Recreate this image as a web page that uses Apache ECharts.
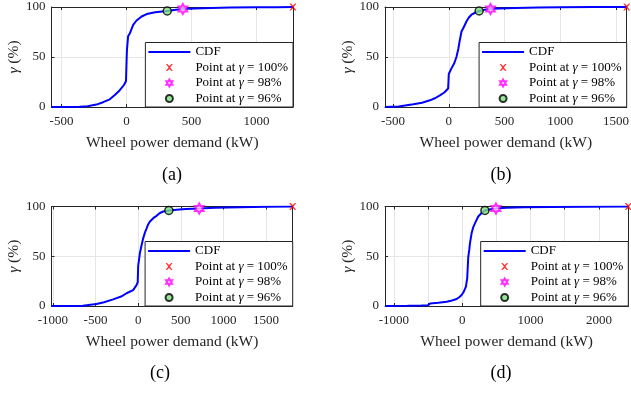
<!DOCTYPE html>
<html>
<head>
<meta charset="utf-8">
<script src="https://cdn.jsdelivr.net/npm/echarts@6/dist/echarts.min.js"></script>
<style>
  html, body { margin: 0; padding: 0; background: #fff; }
  #chart { width: 631px; height: 394px; }
</style>
</head>
<body>
<div id="chart"></div>
<script>
// (a)
const powerA = [-577, -450, -361, -300, -232, -180, -129, -90, -52, -20, -4, 0, 3, 12, 26, 51, 77, 116, 155, 220, 313, 380, 433, 520, 650, 800, 1000, 1150, 1280];
const gammaA = [0, 0, 0.2, 0.8, 2.4, 4.8, 7.7, 12, 16.8, 22, 26, 45, 57, 70.7, 73.8, 82.2, 86.5, 90.5, 92.9, 94.8, 96, 97.2, 98, 98.6, 99.1, 99.4, 99.7, 99.85, 100];
const marksA = [[1280, 100], [433, 98], [313, 96]];
// (b)
const powerB = [-572, -450, -318, -240, -169, -120, -80, -40, -6, -2, 0, 3, 24, 50, 69, 85, 99, 114, 135, 158, 180, 203, 240, 272, 320, 374, 450, 600, 800, 1000, 1300, 1595];
const gammaB = [0, 0.5, 2.7, 4.2, 6.7, 9, 11.7, 14.5, 18.5, 18.7, 33, 35, 38.6, 44, 50.3, 58, 67, 75.5, 80, 85.5, 89.5, 92.3, 94.5, 96, 97.2, 98, 98.6, 99.1, 99.5, 99.7, 99.9, 100];
const marksB = [[1595, 100], [374, 98], [272, 96]];
// (c)
const powerC = [-1016, -800, -650, -488, -400, -293, -200, -136, -59, -19, -5, 0, 20, 40, 59, 80, 99, 117, 138, 180, 216, 255, 294, 360, 450, 560, 716, 900, 1200, 1500, 1812];
const gammaC = [0, 0, 0.3, 2, 3.8, 6.7, 9.5, 12.8, 16, 21, 24, 40, 53, 61, 68, 74, 78, 82, 85, 88.5, 90.6, 93.5, 95, 96, 96.8, 97.4, 98, 98.7, 99.3, 99.7, 100];
const marksC = [[1812, 100], [716, 98], [360, 96]];
// (d)
const powerD = [-1130, -800, -600, -500, -470, -350, -228, -150, -82, -40, -9, 20, 54, 73, 88, 103, 113, 137, 160, 186, 234, 290, 332, 420, 493, 650, 900, 1300, 1800, 2430];
const gammaD = [0, 0.2, 0.4, 0.7, 2.6, 3.2, 4.3, 5.5, 7, 9, 11, 14, 19.4, 28, 49, 56.4, 63, 73, 79, 83, 90, 94, 96, 97.3, 98, 98.8, 99.3, 99.6, 99.85, 100];
const marksD = [[2430, 100], [493, 98], [332, 96]];

const xRanges = [[-577, 1280], [-572, 1595], [-1016, 1812], [-1130, 2430]];
const xSplits = [4, 4, 6, 7];
const xLabelSteps = [500, 500, 500, 1000];
const yTicks = [0, 50, 100];
const captions = ['(a)', '(b)', '(c)', '(d)'];
const legendNames = ['CDF', 'Point at γ = 100%', 'Point at γ = 98%', 'Point at γ = 96%'];

const FONT = 'Liberation Serif';
const INK = '#262626';
const GRID_LINE = '#e6e6e6';

const grids = [
  { left: 51.5, top: 7, width: 241.5, height: 100 },
  { left: 385, top: 7, width: 241.7, height: 100 },
  { left: 51.5, top: 206.5, width: 241.2, height: 99.5 },
  { left: 385, top: 206.5, width: 243.3, height: 99.5 }
];
const captionPos = [[172, 175], [501, 175], [160, 373], [501, 373]];

const chart = echarts.init(document.getElementById('chart'));

const crossPath = 'path://M0,0L2,0L5,3L8,0L10,0L6.2,5L10,10L8,10L5,7L2,10L0,10L3.8,5Z';
const hexPath = 'path://M0,-10L2.887,-5L8.66,-5L5.774,0L8.66,5L2.887,5L0,10L-2.887,5L-8.66,5L-5.774,0L-8.66,-5L-2.887,-5Z';
const lineIcon = 'path://M0,0H42V2H0Z';

const curves = [[powerA, gammaA], [powerB, gammaB], [powerC, gammaC], [powerD, gammaD]];
const marks = [marksA, marksB, marksC, marksD];

const xs = [], ys = [], series = [], legends = [], graphics = [];

function tickLabel(step) {
  return function (v) { return Math.abs(v % step) < 1e-6 ? String(v) : ''; };
}

function xAxisFor(i, top) {
  return {
    type: 'value', gridIndex: i, position: top ? 'top' : 'bottom',
    min: xRanges[i][0], max: xRanges[i][1], splitNumber: xSplits[i],
    axisLine: { show: true, onZero: false, lineStyle: { color: INK, width: 1 } },
    axisTick: { show: true, inside: true, length: 3, lineStyle: { color: INK } },
    axisLabel: { show: !top, formatter: tickLabel(xLabelSteps[i]), fontFamily: FONT, fontSize: 13, color: INK, margin: 8 },
    splitLine: { show: !top, lineStyle: { color: GRID_LINE, width: 1 } },
    name: top ? '' : 'Wheel power demand (kW)', nameLocation: 'middle', nameGap: 28,
    nameTextStyle: { fontFamily: FONT, fontSize: 15.5, color: INK }
  };
}

function yAxisFor(i, right) {
  return {
    type: 'value', gridIndex: i, position: right ? 'right' : 'left',
    min: yTicks[0], max: yTicks[2], interval: yTicks[1] - yTicks[0],
    axisLine: { show: true, onZero: false, lineStyle: { color: INK, width: 1 } },
    axisTick: { show: true, inside: true, length: 3, lineStyle: { color: INK } },
    axisLabel: { show: !right, fontFamily: FONT, fontSize: 13, color: INK, margin: 6 },
    splitLine: { show: !right, lineStyle: { color: GRID_LINE, width: 1 } },
    name: right ? '' : '{g|γ} (%)', nameLocation: 'middle', nameGap: 27,
    nameTextStyle: { fontFamily: FONT, fontSize: 15.5, color: INK,
      rich: { g: { fontStyle: 'italic', fontFamily: FONT, fontSize: 15.5, color: INK } } }
  };
}

for (let i = 0; i < 4; i++) {
  xs[i] = xAxisFor(i, false); xs[i + 4] = xAxisFor(i, true);
  ys[i] = yAxisFor(i, false); ys[i + 4] = yAxisFor(i, true);
}

grids.forEach(function (g, i) {
  const pw = curves[i][0], gm = curves[i][1];
  series.push({
    name: legendNames[0], type: 'line', xAxisIndex: i, yAxisIndex: i,
    data: pw.map(function (x, k) { return [x, gm[k]]; }),
    symbol: 'none', showSymbol: false, lineStyle: { color: '#0000ff', width: 2 }, itemStyle: { color: '#0000ff' },
    silent: true, z: 3
  });
  series.push({
    name: legendNames[1], type: 'scatter', xAxisIndex: i, yAxisIndex: i,
    data: [marks[i][0]], symbol: crossPath, symbolSize: 7, symbolKeepAspect: true,
    itemStyle: { color: '#ff0000' }, clip: false, z: 5
  });
  series.push({
    name: legendNames[2], type: 'scatter', xAxisIndex: i, yAxisIndex: i,
    data: [marks[i][1]], symbol: hexPath, symbolSize: 10, symbolKeepAspect: true,
    itemStyle: { color: '#ffd0ff', borderColor: '#ff00ff', borderWidth: 2 }, clip: false, z: 5
  });
  series.push({
    name: legendNames[3], type: 'scatter', xAxisIndex: i, yAxisIndex: i,
    data: [marks[i][2]], symbol: 'circle', symbolSize: 8,
    itemStyle: { color: '#7ee07e', borderColor: '#000', borderWidth: 1.5 }, clip: false, z: 6
  });

  legends.push({
    orient: 'vertical', align: 'left',
    right: 631 - (g.left + g.width), bottom: 394 - (g.top + g.height),
    itemWidth: 42, itemHeight: 7, itemGap: 2.5, padding: [3, 5, 2, 3],
    backgroundColor: '#fff', borderColor: INK, borderWidth: 1, borderRadius: 0,
    selectedMode: false, symbolKeepAspect: true,
    data: [{ name: legendNames[0], icon: lineIcon }, legendNames[1], legendNames[2], legendNames[3]],
    formatter: function (name) { return name.replace('γ', '{g|γ}'); },
    textStyle: { fontFamily: FONT, fontSize: 13, color: '#000',
      rich: { g: { fontStyle: 'italic', fontFamily: FONT, fontSize: 13, color: '#000' } } }
  });

  graphics.push({
    type: 'text', x: captionPos[i][0], y: captionPos[i][1],
    style: { text: captions[i], fontFamily: FONT, fontSize: 18, fill: '#000', textAlign: 'center', textVerticalAlign: 'middle' }
  });
});

chart.setOption({
  animation: false,
  grid: grids.map(function (g) { return Object.assign({ outerBoundsMode: 'none', containLabel: false }, g); }),
  xAxis: xs,
  yAxis: ys,
  legend: legends,
  series: series,
  graphic: graphics
});
</script>
</body>
</html>
